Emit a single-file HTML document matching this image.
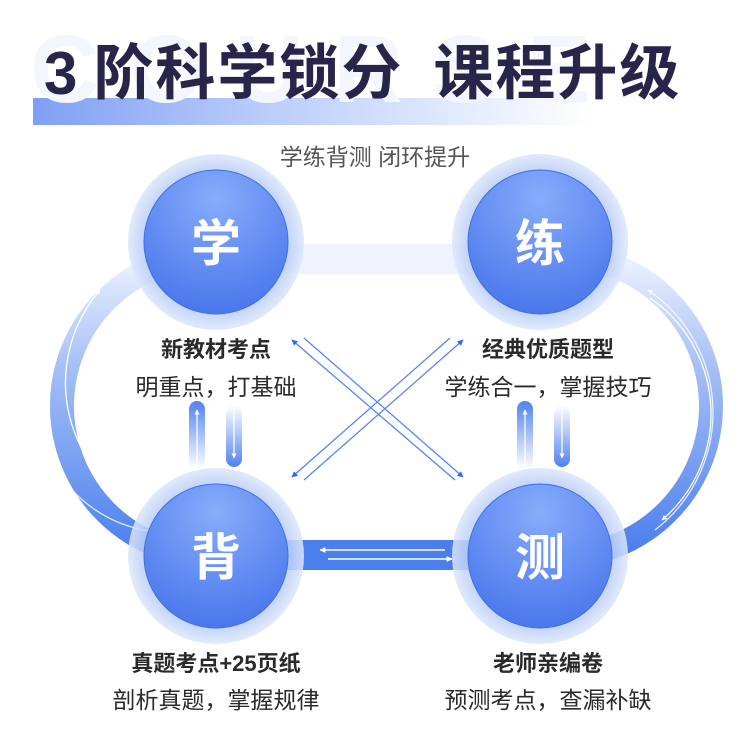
<!DOCTYPE html>
<html><head><meta charset="utf-8"><style>
body{margin:0;width:750px;height:750px;background:#fff;overflow:hidden;font-family:"Liberation Sans","Noto Sans CJK SC",sans-serif;position:relative}
.abs{position:absolute}
.t{position:absolute;width:300px;text-align:center;color:#2a2a2a;white-space:nowrap}
</style></head><body>
<div class="abs" style="left:33px;top:98px;width:560px;height:27px;background:linear-gradient(90deg,#7f9ff3 0%,#b8cbfa 40%,rgba(255,255,255,0) 100%)"></div>
<div class="abs" style="left:30px;top:20px;font-size:96px;font-weight:bold;color:#f3f6fc;letter-spacing:30px;line-height:100px">COURSE</div>
<div class="abs" style="left:44px;top:36px;font-size:60px;font-weight:bold;color:#27264a;line-height:76px;white-space:nowrap;letter-spacing:2px">3<span style="display:inline-block;width:14px"></span>阶科学锁分<span style="display:inline-block;width:30px"></span>课程升级</div>
<div class="abs" style="left:0;width:750px;top:142px;text-align:center;font-size:23px;color:#555;line-height:30px">学练背测 闭环提升</div>

<svg class="abs" style="left:0;top:0" width="750" height="750">
<defs>
<linearGradient id="trk" x1="0" y1="0" x2="0" y2="1"><stop offset="0" stop-color="#eef3ff"/><stop offset="0.35" stop-color="#a9c2f6"/><stop offset="1" stop-color="#4a7eed"/></linearGradient>
<radialGradient id="inner" cx="0.5" cy="0.2" r="0.8"><stop offset="0" stop-color="#86acfb"/><stop offset="1" stop-color="#4a77ec"/></radialGradient>
<radialGradient id="halo" cx="0.5" cy="0.5" r="0.5"><stop offset="0.8" stop-color="#b6cbf6"/><stop offset="1" stop-color="#dde7fb"/></radialGradient>
<linearGradient id="vu" x1="0" y1="0" x2="0" y2="1"><stop offset="0" stop-color="#4f82ef"/><stop offset="1" stop-color="#4f82ef" stop-opacity="0"/></linearGradient>
<linearGradient id="vd" x1="0" y1="0" x2="0" y2="1"><stop offset="0" stop-color="#4f82ef" stop-opacity="0"/><stop offset="1" stop-color="#4f82ef"/></linearGradient>
<marker id="ah" viewBox="0 0 10 10" refX="9" refY="5" markerWidth="5" markerHeight="5" orient="auto"><path d="M0,0L10,5L0,10z" fill="#2f6be8"/></marker>
<marker id="aw" viewBox="0 0 10 10" refX="9" refY="5" markerWidth="4" markerHeight="4" orient="auto"><path d="M0,0L10,5L0,10z" fill="#fff"/></marker>
</defs>
<rect x="62" y="256" width="649" height="300" rx="150" ry="150" fill="none" stroke="url(#trk)" stroke-width="24"/>
<rect x="250" y="540" width="260" height="30" fill="#4a7eed"/>
<rect x="250" y="248" width="260" height="26" fill="#eef3ff"/>
<path d="M180,522 A142,142 0 0 1 100,290" fill="none" stroke="#fff" stroke-width="1.3" marker-end="url(#aw)"/>
<path d="M108,280 A134,134 0 0 0 184,532" fill="none" stroke="#fff" stroke-width="1.3" opacity="0.8" marker-end="url(#aw)"/>
<path d="M650,298 A140,140 0 0 1 662,520" fill="none" stroke="#fff" stroke-width="1.3" marker-end="url(#aw)"/>
<path d="M655,530 A148,148 0 0 0 648,290" fill="none" stroke="#fff" stroke-width="1.3" opacity="0.8" marker-end="url(#aw)"/>
<line x1="445" y1="550" x2="320" y2="550" stroke="#fff" stroke-width="1.5" marker-end="url(#aw)"/>
<line x1="328" y1="559" x2="452" y2="559" stroke="#fff" stroke-width="1.5" marker-end="url(#aw)"/>
<line x1="455" y1="480" x2="292" y2="340" stroke="#4f82ef" stroke-width="1.2" marker-end="url(#ah)"/>
<line x1="304" y1="338" x2="463" y2="477" stroke="#4f82ef" stroke-width="1.2" marker-end="url(#ah)"/>
<line x1="450" y1="338" x2="292" y2="477" stroke="#4f82ef" stroke-width="1.2" marker-end="url(#ah)"/>
<line x1="304" y1="480" x2="463" y2="340" stroke="#4f82ef" stroke-width="1.2" marker-end="url(#ah)"/>
<rect x="189" y="401" width="16" height="68" rx="8" fill="url(#vu)"/>
<line x1="197" y1="466" x2="197" y2="410" stroke="#fff" stroke-width="1.3" marker-end="url(#aw)"/>
<rect x="226" y="405" width="16" height="62" rx="8" fill="url(#vd)"/>
<line x1="234" y1="408" x2="234" y2="458" stroke="#fff" stroke-width="1.3" marker-end="url(#aw)"/>
<rect x="517" y="401" width="16" height="68" rx="8" fill="url(#vu)"/>
<line x1="525" y1="466" x2="525" y2="410" stroke="#fff" stroke-width="1.3" marker-end="url(#aw)"/>
<rect x="554" y="405" width="16" height="62" rx="8" fill="url(#vd)"/>
<line x1="562" y1="408" x2="562" y2="458" stroke="#fff" stroke-width="1.3" marker-end="url(#aw)"/>
<g>
<circle cx="216" cy="242" r="88" fill="url(#halo)" opacity="0.85"/><circle cx="216" cy="242" r="72" fill="url(#inner)" stroke="#3f6fe0" stroke-width="1"/>
<circle cx="540" cy="242" r="88" fill="url(#halo)" opacity="0.85"/><circle cx="540" cy="242" r="72" fill="url(#inner)" stroke="#3f6fe0" stroke-width="1"/>
<circle cx="216" cy="556" r="88" fill="url(#halo)" opacity="0.85"/><circle cx="216" cy="556" r="72" fill="url(#inner)" stroke="#3f6fe0" stroke-width="1"/>
<circle cx="540" cy="556" r="88" fill="url(#halo)" opacity="0.85"/><circle cx="540" cy="556" r="72" fill="url(#inner)" stroke="#3f6fe0" stroke-width="1"/>
</g>
<g font-family="Liberation Sans,Noto Sans CJK SC,sans-serif" font-weight="bold" font-size="50" fill="#fff" text-anchor="middle">
<text x="216" y="261">学</text><text x="540" y="261">练</text><text x="216" y="575">背</text><text x="540" y="575">测</text>
</g>
</svg>

<div class="t" style="left:66px;top:332px;font-size:22px;font-weight:bold">新教材考点</div>
<div class="t" style="left:66px;top:368px;font-size:23px">明重点，打基础</div>
<div class="t" style="left:398px;top:332px;font-size:22px;font-weight:bold">经典优质题型</div>
<div class="t" style="left:398px;top:368px;font-size:23px">学练合一，掌握技巧</div>
<div class="t" style="left:66px;top:646px;font-size:22px;font-weight:bold">真题考点+25页纸</div>
<div class="t" style="left:66px;top:681px;font-size:23px">剖析真题，掌握规律</div>
<div class="t" style="left:398px;top:646px;font-size:22px;font-weight:bold">老师亲编卷</div>
<div class="t" style="left:398px;top:681px;font-size:23px">预测考点，查漏补缺</div>
</body></html>
